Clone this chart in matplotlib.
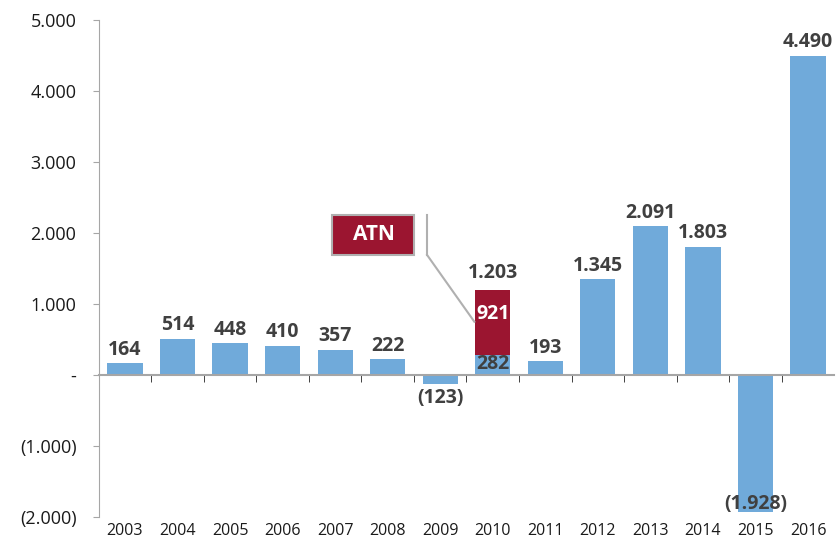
import numpy as np
import matplotlib.pyplot as plt
from matplotlib.patches import Rectangle

years = ['2003', '2004', '2005', '2006', '2007', '2008', '2009', '2010',
         '2011', '2012', '2013', '2014', '2015', '2016']
base = [164, 514, 448, 410, 357, 222, -123, 282, 193, 1345, 2091, 1803, -1928, 4490]
atn = [0, 0, 0, 0, 0, 0, 0, 921, 0, 0, 0, 0, 0, 0]
yticks = [-2000, -1000, 0, 1000, 2000, 3000, 4000, 5000]
ytick_labels = ['(2.000)', '(1.000)', '-', '1.000', '2.000', '3.000', '4.000', '5.000']

BLUE = '#70AADA'
RED = '#9B1530'
DARK = '#404040'
GRAY = '#A6A6A6'

plt.rcParams['font.family'] = ['Open Sans', 'DejaVu Sans']


def fmt(v):
    s = '{:,}'.format(abs(v)).replace(',', '.')
    return '(' + s + ')' if v < 0 else s


fig = plt.figure(figsize=(8.36, 5.49), dpi=100)
ax = fig.add_axes([0.118, 0.058, 0.88, 0.906])

x = np.arange(len(years))
w = 0.67
ax.bar(x, base, width=w, color=BLUE, zorder=2)
ax.bar(x, atn, width=w, bottom=base, color=RED, zorder=2)

ax.set_xlim(-0.5, len(years) - 0.5)
ax.set_ylim(-2000, 5000)
ax.set_yticks(yticks)
ax.set_yticklabels(ytick_labels, fontsize=13, color='#1A1A1A')
ax.tick_params(axis='y', length=4, color=GRAY, pad=12)

# x axis line at zero with boundary ticks
ax.spines['bottom'].set_position(('data', 0))
ax.spines['bottom'].set_color(GRAY)
ax.spines['bottom'].set_linewidth(1.5)
ax.spines['left'].set_color(GRAY)
ax.spines['top'].set_visible(False)
ax.spines['right'].set_visible(False)
ax.set_xticks(x)
ax.set_xticklabels([])
ax.tick_params(axis='x', which='major', length=0)
ax.set_xticks(np.arange(0.5, len(years) - 1, 1.0), minor=True)
ax.tick_params(axis='x', which='minor', length=5, color='#222222', direction='out')

for i, yr in enumerate(years):
    ax.text(i, -0.012, yr, transform=ax.get_xaxis_transform(), ha='center', va='top',
            fontsize=11.5, color='#1A1A1A')

# value labels
LBL = dict(ha='center', fontsize=14, fontweight='bold', color=DARK)
for i in range(len(years)):
    total = base[i] + atn[i]
    if atn[i]:
        ax.text(i, total + 90, fmt(total), va='bottom', **LBL)
        ax.text(i, base[i] + atn[i] * 0.62, fmt(atn[i]), va='center', zorder=3,
                **{**LBL, 'color': 'white'})
        ax.text(i, base[i] / 2 + 20, fmt(base[i]), va='center', zorder=3, **LBL)
    elif base[i] >= 0:
        ax.text(i, base[i] + 50, fmt(base[i]), va='bottom', **LBL)
    elif base[i] > -500:
        ax.text(i, base[i] - 60, fmt(base[i]), va='top', **LBL)
    else:
        ax.text(i, base[i] + 110, fmt(base[i]), va='center', zorder=3, **LBL)

# ATN callout
ax.add_patch(Rectangle((3.95, 1690), 1.56, 564, facecolor=RED, edgecolor='#B0B0B0',
                       linewidth=1.5, zorder=4, clip_on=False))
ax.text(3.95 + 0.78, 1972, 'ATN', ha='center', va='center', fontsize=15,
        fontweight='bold', color='white', zorder=5)
ax.plot([5.75, 5.75], [2254, 1690], color='#B0B0B0', lw=1.5, zorder=4)
ax.plot([5.75, 6.65], [1690, 750], color='#B0B0B0', lw=1.5, zorder=4)

fig.savefig('out.png', dpi=100)
